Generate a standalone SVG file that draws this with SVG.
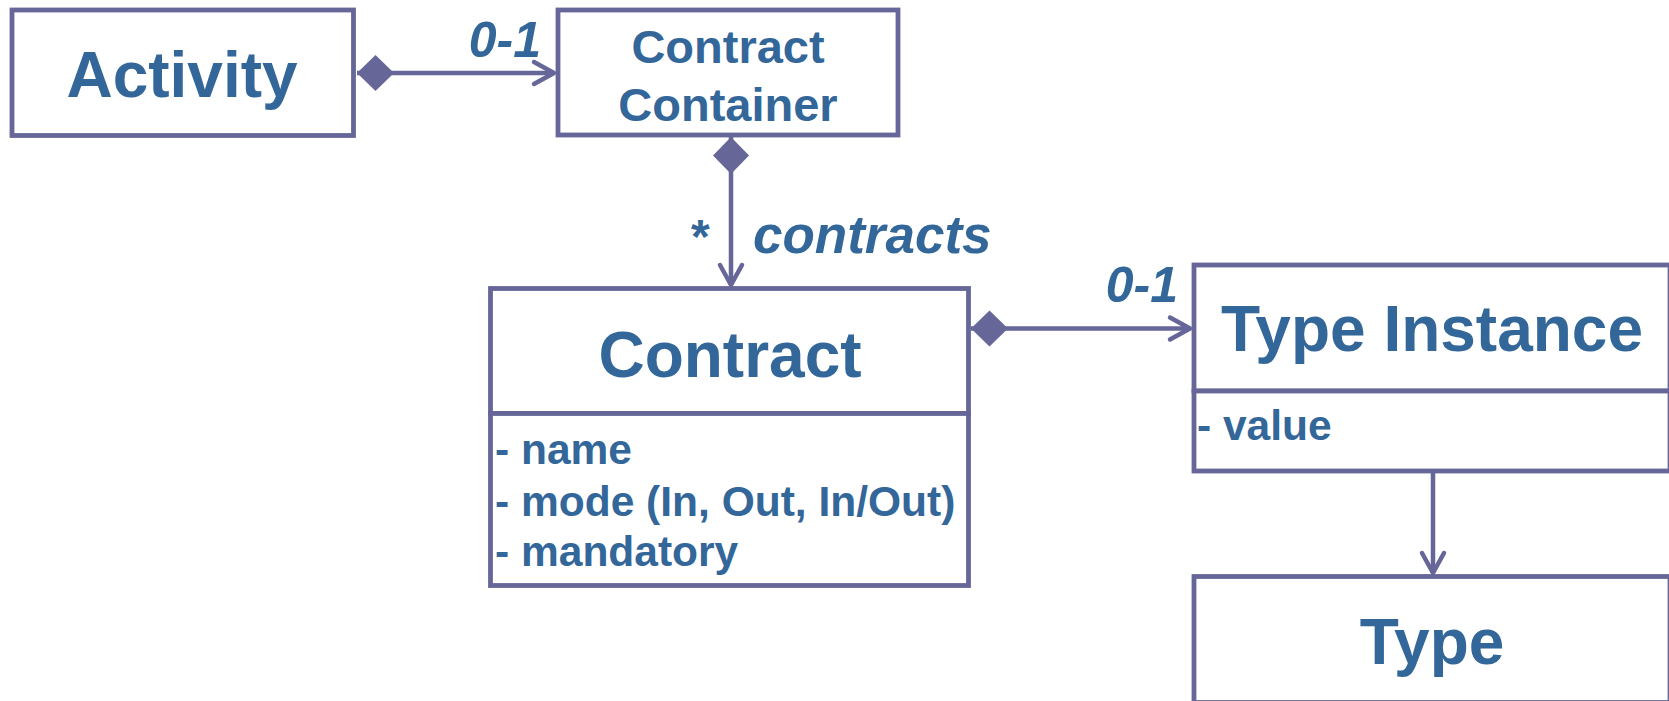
<svg xmlns="http://www.w3.org/2000/svg" width="1669" height="701" viewBox="0 0 1669 701">
<style>
.box{fill:#ffffff;stroke:#666699;stroke-width:4.8}
.t{font-family:"Liberation Sans",Arial,sans-serif;font-weight:bold;fill:#336699}
.big{font-size:64px;text-anchor:middle}
.mid{font-size:47px;text-anchor:middle}
.attr{font-size:42.5px}
.lbl{font-size:50px;font-style:italic}
.conn{fill:none;stroke:#666699;stroke-width:4.5}
</style>
<defs>
<marker id="dia" markerUnits="userSpaceOnUse" markerWidth="40" markerHeight="40" refX="0" refY="0" orient="auto" overflow="visible">
<path d="M0,0 L18.5,-18 L37,0 L18.5,18 Z" fill="#666699"/>
</marker>
<marker id="arr" markerUnits="userSpaceOnUse" markerWidth="30" markerHeight="30" refX="0" refY="0" orient="auto" overflow="visible">
<path d="M-20,-11 L0,0 L-20,11" fill="none" stroke="#666699" stroke-width="4.5" stroke-linecap="round" stroke-linejoin="round"/>
</marker>
</defs>
<rect width="1669" height="701" fill="#ffffff"/>
<g id="connectors">
<path class="conn" d="M357,73 L554,73" marker-start="url(#dia)" marker-end="url(#arr)"/>
<path class="conn" d="M731,137 L731,285" marker-start="url(#dia)" marker-end="url(#arr)"/>
<path class="conn" d="M971,328.5 L1190,328.5" marker-start="url(#dia)" marker-end="url(#arr)"/>
<path class="conn" d="M1433,472 L1433,573" marker-end="url(#arr)"/>
<text class="t lbl" x="541" y="57" text-anchor="end">0-1</text>
<text class="t" x="691" y="253" style="font-size:48px">*</text>
<text class="t lbl" x="753" y="253" style="font-size:53px">contracts</text>
<text class="t lbl" x="1178" y="302" text-anchor="end">0-1</text>
</g>
<g id="activity">
<rect class="box" x="12" y="10" width="341.5" height="125.5"/>
<text class="t big" x="182" y="97">Activity</text>
</g>
<g id="contract-container">
<rect class="box" x="558" y="10" width="340" height="125"/>
<text class="t mid" x="728" y="63">Contract</text>
<text class="t mid" x="728" y="121">Container</text>
</g>
<g id="contract">
<rect class="box" x="490.5" y="288.5" width="478" height="125"/>
<rect class="box" x="490.5" y="413.5" width="478" height="172"/>
<text class="t big" x="730" y="377">Contract</text>
<text class="t attr" x="495" y="464">- name</text>
<text class="t attr" x="495" y="516">- mode (In, Out, In/Out)</text>
<text class="t attr" x="495" y="566">- mandatory</text>
</g>
<g id="type-instance">
<rect class="box" x="1194" y="265" width="476" height="126"/>
<rect class="box" x="1194" y="391" width="476" height="80"/>
<text class="t big" x="1432" y="351">Type Instance</text>
<text class="t attr" x="1197" y="440">- value</text>
</g>
<g id="type">
<rect class="box" x="1194" y="576.5" width="476" height="126"/>
<text class="t big" x="1432" y="664">Type</text>
</g>
</svg>
